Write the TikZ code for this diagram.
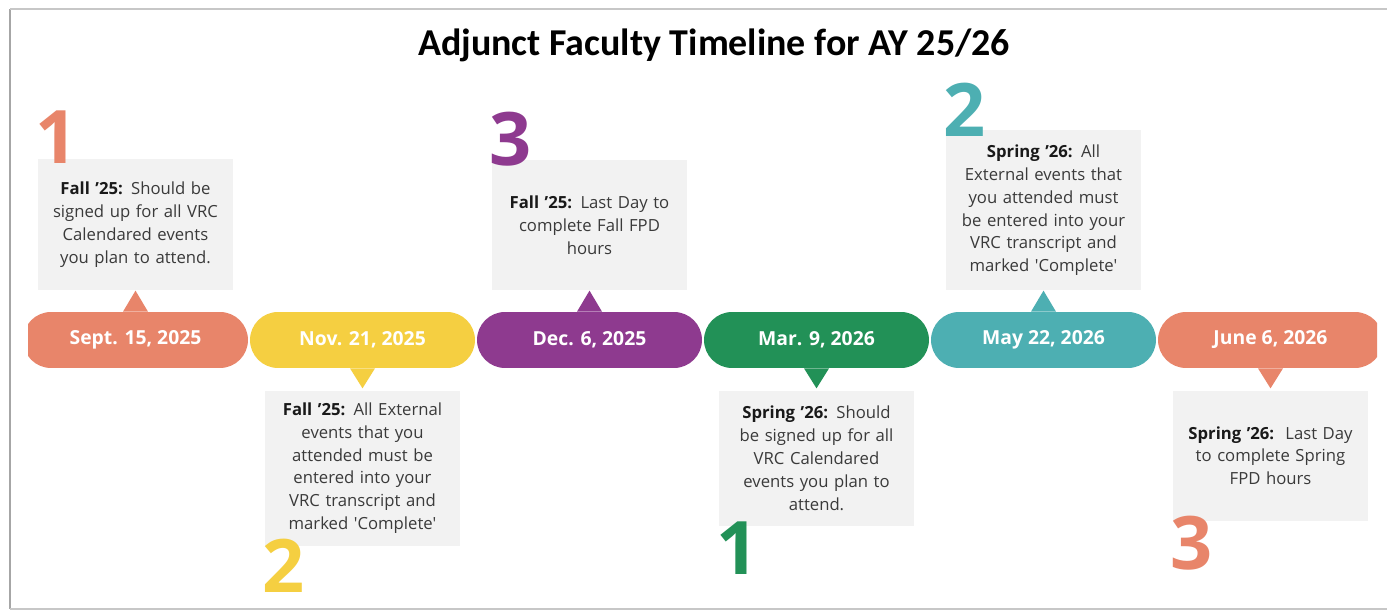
\documentclass[tikz,border=0pt]{standalone}
\usepackage{fontspec}
\setmainfont{Open Sans}[Ligatures=TeXOff]
\newfontfamily\titlefont{Carlito}
\usetikzlibrary{positioning}
\definecolor{tlorange}{RGB}{232,133,106}
\definecolor{tlyellow}{RGB}{245,207,65}
\definecolor{tlpurple}{RGB}{142,58,143}
\definecolor{tlgreen}{RGB}{34,145,87}
\definecolor{tlteal}{RGB}{77,175,178}
\definecolor{boxgray}{RGB}{242,242,242}
\definecolor{boxtext}{RGB}{58,58,58}
\newcommand\termlead[1]{\textcolor{black!90}{\bfseries #1}}
\tikzset{
  pill/.style={rectangle, rounded corners=0.56cm, minimum width=4.5cm,
               minimum height=1.12cm, inner sep=0pt, text=white,
               font=\fontsize{11}{13}\selectfont\bfseries},
  infobox/.style={rectangle, fill=boxgray, minimum width=3.9cm, text width=3.7cm,
                  align=center, inner sep=0pt, text=boxtext,
                  font=\fontsize{9.5}{13}\selectfont},
  bignum/.style={inner sep=0pt, font=\fontsize{42}{42}\selectfont\bfseries},
  frameline/.style={line width=1.2pt, black!22},
}
\begin{document}
\begin{tikzpicture}[x=0.02cm, y=-0.02cm]
  \useasboundingbox (0,0) rectangle (1387,611);
  \fill[white] (0,0) rectangle (1387,611);
  \draw[frameline, black!35] (10,9) -- (10,609);
  \draw[frameline] (10,9) -- (1387,9);
  \draw[frameline] (10,609) -- (1387,609);
  \node[font=\titlefont\fontsize{21.6}{25}\selectfont\bfseries] (title) at (714,45)
    {Adjunct Faculty Timeline for AY 25/26};
  % date pills with their pointers
  \begin{scope}
    \clip (28,0) rectangle (1377,611);
    \foreach \i/\c/\d/\a/\s in {1/tlorange/{Sept. 15, 2025}/north/0.42cm,
                                2/tlyellow/{Nov. 21, 2025}/south/-0.4cm,
                                3/tlpurple/{Dec. 6, 2025}/north/0.42cm,
                                4/tlgreen/{Mar. 9, 2026}/south/-0.4cm,
                                5/tlteal/{May 22, 2026}/north/0.42cm,
                                6/tlorange/{June 6, 2026}/south/-0.4cm} {
      \pgfmathsetmacro\px{135.5+227*(\i-1)}
      \node[pill, fill=\c] (p\i) at (\px,340) {\d};
      \fill[\c] ([xshift=-0.25cm]p\i.\a) -- ([yshift=\s]p\i.\a)
        -- ([xshift=0.25cm]p\i.\a) -- cycle;
    }
  \end{scope}
  % text boxes
  \node[infobox, minimum height=2.62cm, above=0.42cm of p1] (b1)
    {\termlead{Fall ’25:} Should be\\signed up for all VRC\\Calendared events\\you plan to attend.};
  \node[infobox, minimum height=3.1cm, below=0.44cm of p2] (b2)
    {\termlead{Fall ’25:} All External\\events that you\\attended must be\\entered into your\\VRC transcript and\\marked 'Complete'};
  \node[infobox, minimum height=2.6cm, above=0.42cm of p3] (b3)
    {\termlead{Fall ’25:} Last Day to\\complete Fall FPD\\hours};
  \node[infobox, minimum height=2.7cm, below=0.44cm of p4] (b4)
    {\termlead{Spring ’26:} Should\\be signed up for all\\VRC Calendared\\events you plan to\\attend.};
  \node[infobox, minimum height=3.2cm, above=0.42cm of p5] (b5)
    {\termlead{Spring ’26:} All\\External events that\\you attended must\\be entered into your\\VRC transcript and\\marked 'Complete'};
  \node[infobox, minimum height=2.6cm, below=0.44cm of p6] (b6)
    {\termlead{Spring ’26:}\ \ Last Day\\to complete Spring\\FPD hours};
  % step numbers
  \node[bignum, tlorange, anchor=south west] (n1) at ([xshift=-0.06cm, yshift=-0.1cm]b1.north west) {1};
  \node[bignum, tlyellow, anchor=north west] (n2) at ([xshift=-0.06cm, yshift=0.14cm]b2.south west) {2};
  \node[bignum, tlpurple, anchor=south west] (n3) at ([xshift=-0.06cm, yshift=-0.14cm]b3.north west) {3};
  \node[bignum, tlgreen, anchor=north west] (n4) at ([xshift=-0.06cm, yshift=0.1cm]b4.south west) {1};
  \node[bignum, tlteal, anchor=south west] (n5) at ([xshift=-0.06cm, yshift=-0.14cm]b5.north west) {2};
  \node[bignum, tlorange, anchor=north west] (n6) at ([xshift=-0.06cm, yshift=0.1cm]b6.south west) {3};
\end{tikzpicture}
\end{document}
